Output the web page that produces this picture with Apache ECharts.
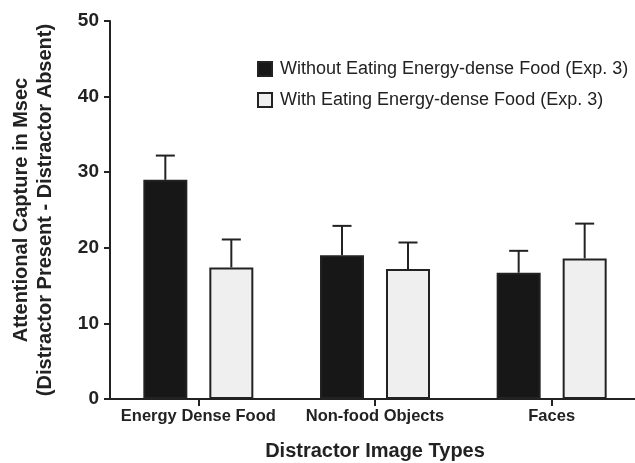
<!DOCTYPE html>
<html>
<head>
<meta charset="utf-8">
<script src="https://cdn.jsdelivr.net/npm/echarts@6/dist/echarts.min.js"></script>
<style>
  html, body { margin: 0; padding: 0; background: #fff; }
  #chart { width: 635px; height: 463px; }
</style>
</head>
<body>
<div id="chart"></div>
<script>
// Distractor categories and group names
const categories = ['Energy Dense Food', 'Non-food Objects', 'Faces'];
const seriesNames = [
  'Without Eating Energy-dense Food (Exp. 3)',
  'With Eating Energy-dense Food (Exp. 3)'
];
// Mean attentional capture (ms) per group
const withoutEating = [29.0, 19.0, 16.7];
const withEating = [17.4, 17.2, 18.6];
// Upper end of the error bar (mean + SEM)
const withoutEatingUpper = [32.2, 22.9, 19.6];
const withEatingUpper = [21.1, 20.7, 23.2];
// Y axis ticks
const yTicks = [0, 10, 20, 30, 40, 50];

const FONT = '"Liberation Sans", Arial, Helvetica, sans-serif';
const INK = '#222';
const BAR_W = 44;
const BAR_GAP = 22;

function errorSeries(name, means, uppers, side) {
  const data = means.map((m, i) => [i, m, uppers[i]]);
  return {
    type: 'custom',
    name: name + ' SEM',
    z: 1,
    silent: true,
    data: data,
    encode: { x: 0, y: [1, 2] },
    renderItem: function (params, api) {
      const idx = api.value(0);
      const low = api.coord([idx, api.value(1)]);
      const high = api.coord([idx, api.value(2)]);
      const x = low[0] + side * (BAR_W + BAR_GAP) / 2;
      const cap = 9.5;
      const style = { stroke: INK, lineWidth: 2, fill: null };
      return {
        type: 'group',
        children: [
          { type: 'line', shape: { x1: x, y1: low[1], x2: x, y2: high[1] }, style: style },
          { type: 'line', shape: { x1: x - cap, y1: high[1], x2: x + cap, y2: high[1] }, style: style }
        ]
      };
    }
  };
}

const chart = echarts.init(document.getElementById('chart'), null, { renderer: 'canvas' });
chart.setOption({
  animation: false,
  backgroundColor: '#fff',
  textStyle: { fontFamily: FONT },
  grid: { left: 110, top: 21, height: 378, width: 530, containLabel: false, outerBoundsMode: 'none' },
  legend: {
    data: seriesNames,
    orient: 'vertical',
    left: 252,
    top: 55,
    itemWidth: 14,
    itemHeight: 14,
    itemGap: 13,
    icon: 'rect',
    selectedMode: false,
    textStyle: { fontFamily: FONT, fontSize: 18, color: '#222', padding: [0, 0, 0, 3] }
  },
  xAxis: {
    type: 'category',
    data: categories,
    name: 'Distractor Image Types',
    nameLocation: 'middle',
    nameGap: 42,
    nameTextStyle: { fontFamily: FONT, fontSize: 20, fontWeight: 'bold', color: '#222' },
    axisLine: { show: true, lineStyle: { color: INK, width: 2 } },
    axisTick: { show: true, interval: 0, alignWithLabel: true, length: 7, lineStyle: { color: INK, width: 2 } },
    axisLabel: { interval: 0, hideOverlap: false, fontFamily: FONT, fontSize: 16.5, fontWeight: 'bold', color: '#222', margin: 9 }
  },
  yAxis: {
    type: 'value',
    min: yTicks[0],
    max: yTicks[yTicks.length - 1],
    interval: yTicks[1] - yTicks[0],
    name: 'Attentional Capture in Msec\n(Distractor Present - Distractor Absent)',
    nameLocation: 'middle',
    nameGap: 53,
    nameTextStyle: { fontFamily: FONT, fontSize: 20, fontWeight: 'bold', color: '#222', lineHeight: 24 },
    axisLine: { show: true, lineStyle: { color: INK, width: 2 } },
    axisTick: { show: true, length: 6, lineStyle: { color: INK, width: 2 } },
    splitLine: { show: false },
    axisLabel: { fontFamily: FONT, fontSize: 19, fontWeight: 'bold', color: '#222', margin: 11 }
  },
  series: [
    {
      type: 'bar',
      name: seriesNames[0],
      data: withoutEating,
      barWidth: BAR_W,
      barGap: (BAR_GAP / BAR_W * 100) + '%',
      z: 2,
      itemStyle: { color: '#171717', borderColor: INK, borderWidth: 2 }
    },
    {
      type: 'bar',
      name: seriesNames[1],
      data: withEating,
      barWidth: BAR_W,
      z: 2,
      itemStyle: { color: '#efefef', borderColor: INK, borderWidth: 2 }
    },
    errorSeries(seriesNames[0], withoutEating, withoutEatingUpper, -1),
    errorSeries(seriesNames[1], withEating, withEatingUpper, 1)
  ]
});
</script>
</body>
</html>
